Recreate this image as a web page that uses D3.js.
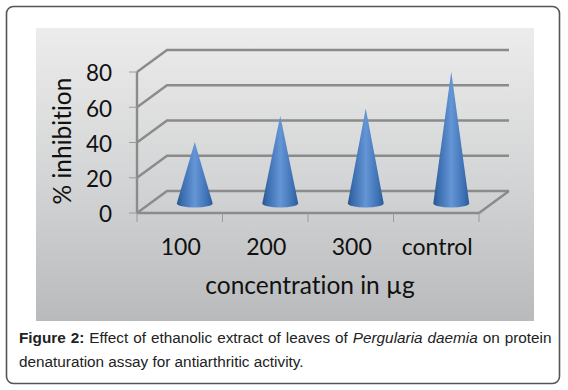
<!DOCTYPE html>
<html>
<head>
<meta charset="utf-8">
<script src="https://cdn.jsdelivr.net/npm/d3@7"></script>
<style>
  html, body { margin: 0; padding: 0; background: #fff; }
  svg { display: block; }
  text { fill: #111; }
  .chart-text { font-family: Lato, "Open Sans", sans-serif; font-variant-ligatures: none; }
  .caption { font-family: "Liberation Sans", Arial, sans-serif; font-size: 15.3px; fill: #222; }
</style>
</head>
<body>
<div id="chart"></div>
<script>
// datos
const categories = ["100", "200", "300", "control"];
const inhibition = [34, 49, 53, 74];
const yTicks = [0, 20, 40, 60, 80];

const width = 568, height = 390;
const depthX = 30, depthY = -22;   // desplazamiento de la pared trasera

const svg = d3.select("#chart").append("svg")
    .attr("width", width)
    .attr("height", height);

const defs = svg.append("defs");

const panelGrad = defs.append("linearGradient")
    .attr("id", "panelGrad").attr("x1", 0).attr("x2", 0).attr("y1", 0).attr("y2", 1);
panelGrad.append("stop").attr("offset", "0%").attr("stop-color", "#ececec");
panelGrad.append("stop").attr("offset", "55%").attr("stop-color", "#d2d3d4");
panelGrad.append("stop").attr("offset", "100%").attr("stop-color", "#b9babb");

const coneGrad = defs.append("linearGradient")
    .attr("id", "coneGrad").attr("x1", 0).attr("x2", 1).attr("y1", 0).attr("y2", 0);
coneGrad.append("stop").attr("offset", "0%").attr("stop-color", "#28558f");
coneGrad.append("stop").attr("offset", "14%").attr("stop-color", "#3a6cae");
coneGrad.append("stop").attr("offset", "50%").attr("stop-color", "#6496d6");
coneGrad.append("stop").attr("offset", "86%").attr("stop-color", "#3d70b3");
coneGrad.append("stop").attr("offset", "100%").attr("stop-color", "#2a5a98");

// marco de la tarjeta
svg.append("rect")
    .attr("x", 6.5).attr("y", 6.5)
    .attr("width", 553).attr("height", 377)
    .attr("rx", 7)
    .attr("fill", "#fff")
    .attr("stroke", "#555")
    .attr("stroke-width", 1.6);

// fondo del grafico
svg.append("rect")
    .attr("x", 36).attr("y", 28)
    .attr("width", 498).attr("height", 293)
    .attr("fill", "url(#panelGrad)");

const x = d3.scaleBand().domain(categories).range([137, 479]);
const y = d3.scaleLinear().domain([0, 80]).range([213, 72]);

// rejilla: pared trasera + pared lateral
const grid = svg.append("g")
    .attr("fill", "none")
    .attr("stroke", "#8b8b8b")
    .attr("stroke-width", 2.4);

yTicks.forEach(t => {
    const points = [
        [x.range()[0], y(t)],
        [x.range()[0] + depthX, y(t) + depthY],
        [x.range()[1] + depthX, y(t) + depthY]
    ];
    grid.append("path").attr("d", d3.line()(points));
});

// suelo: frente y lado derecho
grid.append("path").attr("d", d3.line()([
    [x.range()[0], y(0)],
    [x.range()[1], y(0)],
    [x.range()[1] + depthX, y(0) + depthY]
]));
// eje vertical
grid.append("path").attr("d", d3.line()([[x.range()[0], y(80)], [x.range()[0], y(0)]]));

// marcas de los ejes
const tickMarks = svg.append("g").attr("stroke", "#999").attr("stroke-width", 1);
yTicks.forEach(t => {
    tickMarks.append("line")
        .attr("x1", x.range()[0] - 8).attr("x2", x.range()[0])
        .attr("y1", y(t)).attr("y2", y(t));
});
categories.concat([null]).forEach(c => {
    const px = c === null ? x.range()[1] : x(c);
    tickMarks.append("line")
        .attr("x1", px).attr("x2", px)
        .attr("y1", y(0)).attr("y2", y(0) + 9);
});

// conos
const baseY = v => y(v) + depthY / 2;
const coneHalf = x.bandwidth() * 0.21;
const baseRy = 4;

svg.selectAll("path.cone")
    .data(categories.map((c, i) => ({ cat: c, val: inhibition[i] })))
    .enter().append("path")
    .attr("class", "cone")
    .attr("fill", "url(#coneGrad)")
    .attr("d", d => {
        const cx = x(d.cat) + x.bandwidth() / 2 + depthX / 2;
        const by = baseY(0) + 1.5;
        return `M${cx},${baseY(d.val)}` +
            `L${cx + coneHalf},${by}` +
            `A${coneHalf},${baseRy} 0 0 1 ${cx - coneHalf},${by}Z`;
    });

// etiquetas de los ejes
const labels = svg.append("g").attr("class", "chart-text");

labels.selectAll("text.ytick")
    .data(yTicks)
    .enter().append("text")
    .attr("class", "ytick")
    .attr("x", 112)
    .attr("y", d => y(d))
    .attr("dy", "0.42em")
    .attr("text-anchor", "end")
    .attr("font-size", 22.5)
    .text(d => d);

labels.selectAll("text.xtick")
    .data(categories)
    .enter().append("text")
    .attr("class", "xtick")
    .attr("x", d => x(d) + x.bandwidth() / 2 + 1)
    .attr("y", 255)
    .attr("text-anchor", "middle")
    .attr("font-size", 23)
    .text(d => d);

labels.append("text")
    .attr("x", 310).attr("y", 294)
    .attr("text-anchor", "middle")
    .attr("font-size", 24.5)
    .text("concentration in µg");

labels.append("text")
    .attr("transform", "translate(71,141) rotate(-90)")
    .attr("text-anchor", "middle")
    .attr("font-size", 24.5)
    .text("% inhibition");

// pie de figura
const line1 = svg.append("text").attr("class", "caption")
    .attr("x", 19).attr("y", 343).attr("word-spacing", 0.75);
line1.append("tspan").attr("font-weight", "bold").text("Figure 2:");
line1.append("tspan").text(" Effect of ethanolic extract of leaves of ");
line1.append("tspan").attr("font-style", "italic").text("Pergularia daemia");
line1.append("tspan").text(" on protein");

svg.append("text").attr("class", "caption")
    .attr("x", 19).attr("y", 367)
    .text("denaturation assay for antiarthritic activity.");
</script>
</body>
</html>
